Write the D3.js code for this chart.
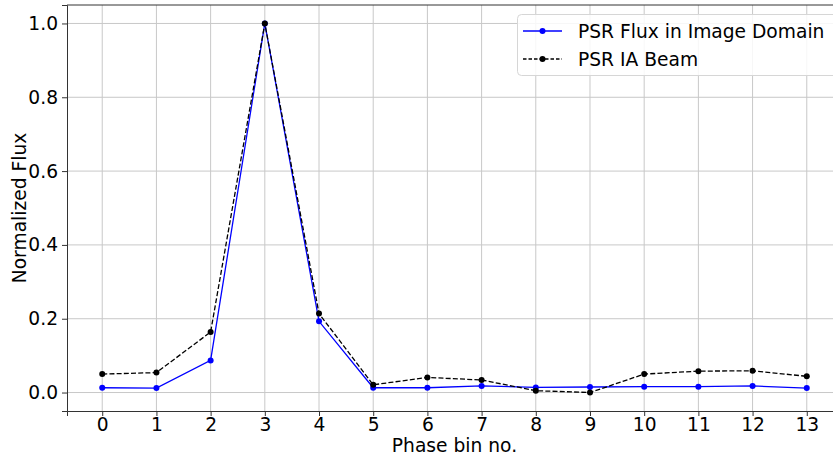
<!DOCTYPE html>
<html>
<head>
<meta charset="utf-8">
<script src="https://cdn.jsdelivr.net/npm/d3@7"></script>
<style>
  body { margin: 0; background: #fff; }
  text { font-family: "DejaVu Sans", sans-serif; fill: #000; }
</style>
</head>
<body>
<div id="plot"></div>
<script>
// phase bins and the two normalized profiles
const bins = [0, 1, 2, 3, 4, 5, 6, 7, 8, 9, 10, 11, 12, 13];
const imageFlux = [0.013, 0.012, 0.087, 1.0, 0.193, 0.013, 0.013, 0.018, 0.014, 0.015, 0.016, 0.016, 0.018, 0.012];
const iaBeam = [0.050, 0.054, 0.164, 1.0, 0.214, 0.021, 0.041, 0.034, 0.005, 0.0, 0.050, 0.058, 0.059, 0.044];
const yTicks = [0.0, 0.2, 0.4, 0.6, 0.8, 1.0];
const seriesNames = ["PSR Flux in Image Domain", "PSR IA Beam"];

const width = 833, height = 455;
const fontSize = "18.67px";
// plot box (right edge runs past the image, as in the original)
const boxLeft = 67, boxTop = 5, boxRight = 842, boxBottom = 411;

const svg = d3.select("#plot").append("svg")
  .attr("width", width)
  .attr("height", height);

const x = d3.scaleLinear().domain([-0.65, 13.65]).range([boxLeft, boxRight]);
const y = d3.scaleLinear().domain([-0.05, 1.05]).range([boxBottom, boxTop]);

// grid
svg.append("g")
  .selectAll("line")
  .data(bins)
  .enter().append("line")
    .attr("x1", d => x(d)).attr("x2", d => x(d))
    .attr("y1", boxTop).attr("y2", boxBottom)
    .attr("stroke", "#c8c8c8").attr("stroke-width", 1);

svg.append("g")
  .selectAll("line")
  .data(yTicks)
  .enter().append("line")
    .attr("x1", boxLeft).attr("x2", boxRight)
    .attr("y1", d => y(d)).attr("y2", d => y(d))
    .attr("stroke", "#c8c8c8").attr("stroke-width", 1);

// axes
const xAxis = svg.append("g")
  .attr("transform", "translate(0," + boxBottom + ")")
  .call(d3.axisBottom(x).tickValues(bins).tickFormat(d3.format("d")).tickSizeOuter(0).tickSize(5).tickPadding(1.5));
const yAxis = svg.append("g")
  .attr("transform", "translate(" + boxLeft + ",0)")
  .call(d3.axisLeft(y).tickValues(yTicks).tickFormat(d3.format(".1f")).tickSizeOuter(0).tickSize(5).tickPadding(4));

[xAxis, yAxis].forEach(function(g) {
  g.selectAll("text").style("font-family", "DejaVu Sans").style("font-size", fontSize).attr("fill", "#000");
  g.selectAll("line").attr("stroke", "#333");
  g.select(".domain").attr("stroke", "#333");
});

// top spine
svg.append("line")
  .attr("x1", boxLeft).attr("x2", boxRight)
  .attr("y1", boxTop).attr("y2", boxTop)
  .attr("stroke", "#333");

// axis labels
svg.append("text")
  .attr("x", (boxLeft + boxRight) / 2)
  .attr("y", 452)
  .attr("text-anchor", "middle")
  .style("font-size", fontSize)
  .text("Phase bin no.");

svg.append("text")
  .attr("transform", "translate(25.5," + (boxBottom + boxTop) / 2 + ") rotate(-90)")
  .attr("text-anchor", "middle")
  .style("font-size", fontSize)
  .text("Normalized Flux");

// lines
const line = d3.line()
  .x((d, i) => x(bins[i]))
  .y(d => y(d));

const plotArea = svg.append("g");

plotArea.append("path")
  .datum(imageFlux)
  .attr("d", line)
  .attr("fill", "none")
  .attr("stroke", "#0000ff")
  .attr("stroke-width", 1.3);

plotArea.selectAll(".dot-img")
  .data(imageFlux)
  .enter().append("circle")
    .attr("class", "dot-img")
    .attr("cx", (d, i) => x(bins[i]))
    .attr("cy", d => y(d))
    .attr("r", 3)
    .attr("fill", "#0000ff");

plotArea.append("path")
  .datum(iaBeam)
  .attr("d", line)
  .attr("fill", "none")
  .attr("stroke", "#000")
  .attr("stroke-width", 1.3)
  .attr("stroke-dasharray", "5,2.2");

plotArea.selectAll(".dot-ia")
  .data(iaBeam)
  .enter().append("circle")
    .attr("class", "dot-ia")
    .attr("cx", (d, i) => x(bins[i]))
    .attr("cy", d => y(d))
    .attr("r", 3)
    .attr("fill", "#000");

// legend
const legend = svg.append("g");
legend.append("rect")
  .attr("x", 517.5).attr("y", 14.5)
  .attr("width", 330).attr("height", 61)
  .attr("rx", 4)
  .attr("fill", "#fff").attr("fill-opacity", 0.85)
  .attr("stroke", "#d6d6d6");

const legendColors = ["#0000ff", "#000"];
const legendDash = [null, "3.5,2"];
seriesNames.forEach(function(name, i) {
  const ly = 31 + i * 28;
  legend.append("line")
    .attr("x1", 523).attr("x2", 562)
    .attr("y1", ly).attr("y2", ly)
    .attr("stroke", legendColors[i])
    .attr("stroke-width", 1.3)
    .attr("stroke-dasharray", legendDash[i]);
  legend.append("circle")
    .attr("cx", 542.5).attr("cy", ly).attr("r", 3)
    .attr("fill", legendColors[i]);
  legend.append("text")
    .attr("x", 578).attr("y", ly + 6.5)
    .style("font-size", fontSize)
    .text(name);
});
</script>
</body>
</html>
